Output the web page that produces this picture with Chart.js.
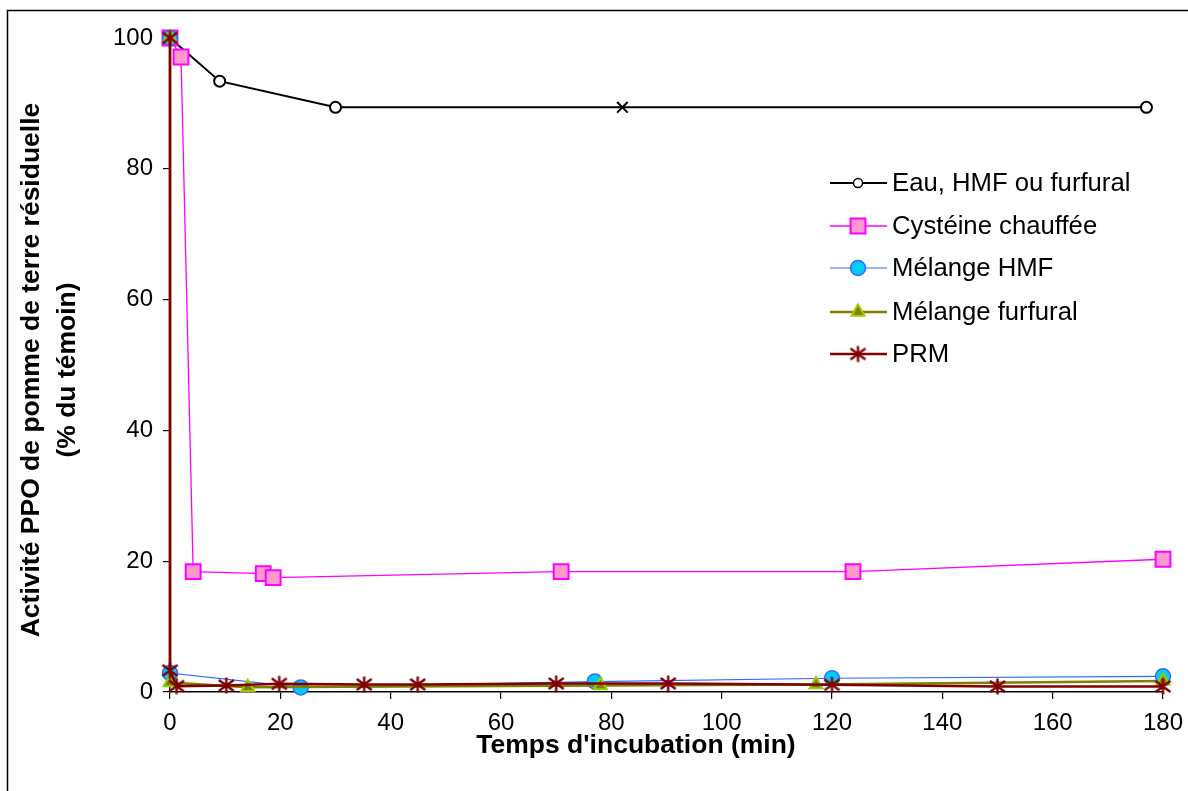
<!DOCTYPE html>
<html>
<head>
<meta charset="utf-8">
<script src="https://cdn.jsdelivr.net/npm/chart.js@4/dist/chart.umd.min.js"></script>
<style>
html,body{margin:0;padding:0;background:#fff;}
#wrap{width:1188px;height:791px;position:relative;}
</style>
</head>
<body>
<div id="wrap"><canvas id="c" width="1188" height="791"></canvas></div>
<script>
// ---- data ----
const seriesNames = ["Eau, HMF ou furfural", "Cystéine chauffée", "Mélange HMF", "Mélange furfural", "PRM"];
const xEau = [0, 9, 30, 82, 177];
const yEau = [100, 93.4, 89.4, 89.4, 89.4];
const xCys = [0, 2, 4.2, 16.9, 18.7, 70.9, 123.8, 180];
const yCys = [100, 97.1, 18.4, 18.1, 17.5, 18.4, 18.4, 20.3];
const xHMF = [0, 0, 23.7, 77, 120, 180];
const yHMF = [100, 2.9, 0.7, 1.6, 2.1, 2.4];
const xFur = [0, 0, 14.1, 78, 117.1, 180];
const yFur = [100, 1.45, 0.73, 1.0, 1.15, 1.7];
const xPRM = [0, 0, 1.2, 10.2, 19.8, 35.2, 44.9, 70, 90.3, 120, 150, 180];
const yPRM = [100, 3.3, 0.9, 1.0, 1.25, 1.15, 1.15, 1.3, 1.3, 1.1, 0.85, 0.85];
const xTicks = [0, 20, 40, 60, 80, 100, 120, 140, 160, 180];
const yTicks = [0, 20, 40, 60, 80, 100];
const xTitle = "Temps d'incubation (min)";
const yTitle = ["Activité PPO de pomme de terre résiduelle", "(% du témoin)"];

const FONT = '"Liberation Sans", Arial, sans-serif';
function pts(xs, ys){ return xs.map((x,i)=>({x:x, y:ys[i]})); }

// asterisk marker (6 arms)
function makeStar(color){
  const c = document.createElement('canvas');
  c.width = 19; c.height = 19;
  const g = c.getContext('2d');
  g.strokeStyle = color; g.lineWidth = 2.4; g.lineCap = 'butt';
  g.beginPath();
  g.moveTo(9.5, 1.5); g.lineTo(9.5, 17.5);
  g.moveTo(2, 4); g.lineTo(17, 15);
  g.moveTo(17, 4); g.lineTo(2, 15);
  g.stroke();
  return c;
}
const star = makeStar('#800000');

const eauStyles = xEau.map((x,i)=> i===3 ? 'crossRot' : 'circle');
const eauRadius = xEau.map((x,i)=> i===3 ? 7.5 : 5.5);

const datasets = [
  {label: seriesNames[0], data: pts(xEau,yEau), borderColor:'#000', borderWidth:2,
   pointStyle: eauStyles, pointRadius: eauRadius, pointBackgroundColor:'#fff', pointBorderColor:'#000', pointBorderWidth:2, order:5,
   legendMarker:{style:'circle', r:4.5, fill:'#fff', stroke:'#000', bw:1.5}},
  {label: seriesNames[1], data: pts(xCys,yCys), borderColor:'#ff00ff', borderWidth:1.3,
   pointStyle:'rect', pointRadius:10.5, pointBackgroundColor:'#ff99cc', pointBorderColor:'#ff00ff', pointBorderWidth:2, order:4,
   legendMarker:{style:'rect', r:10.5, fill:'#ff99cc', stroke:'#ff00ff', bw:2}},
  {label: seriesNames[2], data: pts(xHMF,yHMF), borderColor:'#3366ff', borderWidth:1.2,
   pointStyle:'circle', pointRadius:7.5, pointBackgroundColor:'#00ccff', pointBorderColor:'#3366ff', pointBorderWidth:1.5, order:3,
   legendMarker:{style:'circle', r:7.5, fill:'#00ccff', stroke:'#3366ff', bw:1.5}},
  {label: seriesNames[3], data: pts(xFur,yFur), borderColor:'#808000', borderWidth:2.5,
   pointStyle:'triangle', pointRadius:7.5, pointBackgroundColor:'#808000', pointBorderColor:'#99cc00', pointBorderWidth:2, order:2,
   legendMarker:{style:'triangle', r:7.5, fill:'#808000', stroke:'#99cc00', bw:2}},
  {label: seriesNames[4], data: pts(xPRM,yPRM), borderColor:'#800000', borderWidth:2.6,
   pointStyle: star, pointRadius:9, pointBackgroundColor:'#800000', pointBorderColor:'#800000', pointBorderWidth:1, order:1,
   legendMarker:{style: star, r:9, fill:'#800000', stroke:'#800000', bw:1}}
];
datasets.forEach(d=>{ d.tension = 0; d.fill = false; d.clip = false; d.showLine = true; });

const decor = {
  id:'decor',
  afterDraw(chart){
    const ctx = chart.ctx;
    ctx.save();
    // outer frame (top and left visible)
    ctx.strokeStyle = '#000'; ctx.lineWidth = 1.5;
    ctx.beginPath();
    ctx.moveTo(7.5, 800); ctx.lineTo(7.5, 10.5); ctx.lineTo(1200, 10.5);
    ctx.stroke();
    // axis titles
    ctx.fillStyle = '#000';
    ctx.font = 'bold 26.5px ' + FONT;
    ctx.textAlign = 'center'; ctx.textBaseline = 'middle';
    ctx.fillText(xTitle, 636, 746);
    ctx.save();
    ctx.translate(32, 370); ctx.rotate(-Math.PI/2);
    ctx.fillText(yTitle[0], 0, 0);
    ctx.restore();
    ctx.save();
    ctx.translate(68, 370); ctx.rotate(-Math.PI/2);
    ctx.fillText(yTitle[1], 0, 0);
    ctx.restore();
    // legend
    const rows = [183, 226, 268, 312, 354];
    chart.data.datasets.forEach((d, i)=>{
      const y = rows[i];
      ctx.strokeStyle = d.borderColor; ctx.lineWidth = d.borderWidth;
      ctx.beginPath(); ctx.moveTo(830, y); ctx.lineTo(887, y); ctx.stroke();
      const m = d.legendMarker;
      ctx.fillStyle = m.fill; ctx.strokeStyle = m.stroke; ctx.lineWidth = m.bw;
      Chart.helpers.drawPoint(ctx, {pointStyle: m.style, radius: m.r, rotation: 0, borderWidth: m.bw}, 858, y);
      ctx.fillStyle = '#000';
      ctx.font = '25.7px ' + FONT;
      ctx.textAlign = 'left'; ctx.textBaseline = 'middle';
      ctx.fillText(d.label, 892, y + 1);
    });
    ctx.restore();
  }
};

new Chart(document.getElementById('c'), {
  type: 'scatter',
  data: { datasets: datasets },
  options: {
    responsive: false,
    devicePixelRatio: 1,
    animation: false,
    events: [],
    layout: { padding: { left: 0, top: 38, right: 25, bottom: 0 } },
    plugins: { legend: { display: false }, tooltip: { enabled: false } },
    scales: {
      x: {
        type: 'linear', min: 0, max: 180,
        afterFit(s){ s.height = 99; s.paddingLeft = 0; s.paddingRight = 0; },
        afterBuildTicks(s){ s.ticks = xTicks.map(v=>({value:v})); },
        ticks: { color:'#000', font:{ family: FONT, size: 24 }, padding: 10, maxRotation:0, autoSkip:false },
        grid: { drawOnChartArea:false, drawTicks:true, tickLength:7, color:'#000', lineWidth:1.2 },
        border: { display:true, color:'#000', width:1.5 }
      },
      y: {
        type: 'linear', min: 0, max: 100,
        afterFit(s){ s.width = 170; s.paddingTop = 0; s.paddingBottom = 0; },
        afterBuildTicks(s){ s.ticks = yTicks.map(v=>({value:v})); },
        ticks: { color:'#000', font:{ family: FONT, size: 24 }, padding: 10 },
        grid: { drawOnChartArea:false, drawTicks:true, tickLength:7, color:'#000', lineWidth:1.2 },
        border: { display:true, color:'#000', width:1.5 }
      }
    }
  },
  plugins: [decor]
});
</script>
</body>
</html>
